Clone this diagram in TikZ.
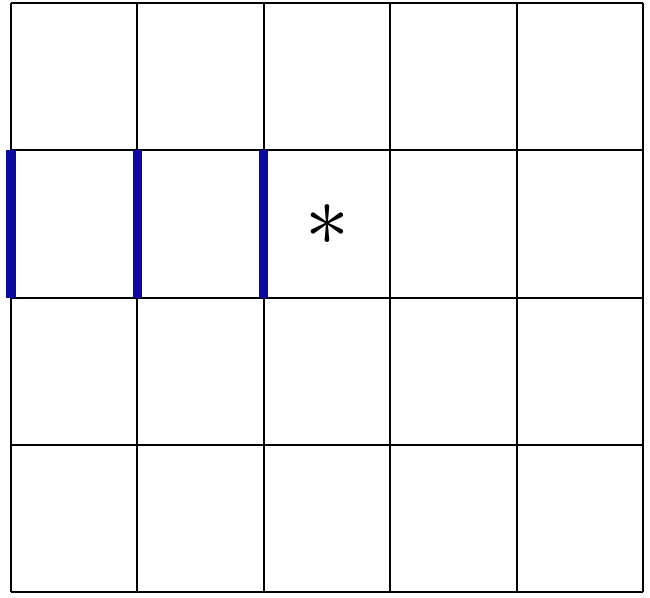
\documentclass[tikz,border=0pt]{standalone}
\definecolor{wallblue}{RGB}{10,10,160}
\begin{document}
\begin{tikzpicture}[x=1.264cm, y=1.473cm, every node/.style={inner sep=0pt}]
                \useasboundingbox ([xshift=-0.11cm,yshift=-0.05cm]0,0) rectangle ([xshift=0.07cm,yshift=0.03cm]5,4);
                
                % grille
                \foreach \x in {0,...,5} { \draw[line width=0.6pt] (\x,0) -- (\x,4); }
                \foreach \y in {0,...,4} { \draw[line width=0.6pt] (0,\y) -- (5,\y); }
                
                % murs
                \foreach \x in {0,1,2} { \draw[wallblue, line width=2.6pt] (\x,2) -- (\x,3); }
                
                % case
                \node[scale=2.5] (star) at (2.5,2.41) {*};
            \end{tikzpicture}
\end{document}
